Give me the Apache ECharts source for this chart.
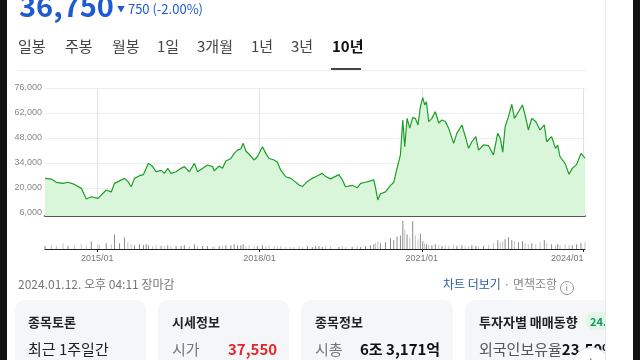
<!DOCTYPE html>
<html><head><meta charset="utf-8">
<script src="https://cdn.jsdelivr.net/npm/echarts@6/dist/echarts.min.js"></script>
<style>
body{margin:0;width:640px;height:360px;overflow:hidden;background:#fff;font-family:"Noto Sans CJK KR","Noto Sans",sans-serif;position:relative}
.a{position:absolute;white-space:nowrap}
.tab{position:absolute;top:36px;font-size:15px;line-height:20px;color:#444}
.card{position:absolute;top:300px;height:80px;border-radius:10px;background:#f5f6f8}
.ct{position:absolute;top:313px;font-size:13px;line-height:18px;font-weight:700;color:#222}
.r2{position:absolute;top:339px;font-size:15px;line-height:20px;color:#222}
</style></head><body>
<div id="chart" class="a" style="left:0;top:70px;width:640px;height:200px"></div>
<div class="a" style="left:0;top:0;width:7px;height:360px;background:#111"></div>
<div class="a" style="left:633px;top:0;width:7px;height:360px;background:#111"></div>
<div class="a" style="left:605px;top:0;width:1px;height:360px;background:#e8e8e8"></div>
<div class="a" style="left:7px;top:0;width:598px;height:360px;overflow:hidden;pointer-events:none">
  <div class="a" style="left:12px;top:-16px;font-size:29px;line-height:40px;font-weight:700;color:#1f5bd0">36,750</div>
  <div class="a" style="left:110px;top:0px;font-size:13px;line-height:18px;color:#1f5bd0"><span style="font-size:8px;position:relative;top:-2px">▼</span> 750 (-2.00%)</div>
  <div class="tab" style="left:11px">일봉</div>
  <div class="tab" style="left:58px">주봉</div>
  <div class="tab" style="left:105px">월봉</div>
  <div class="tab" style="left:150px">1일</div>
  <div class="tab" style="left:190px">3개월</div>
  <div class="tab" style="left:244px">1년</div>
  <div class="tab" style="left:284px">3년</div>
  <div class="tab" style="left:325px;font-weight:700;color:#111">10년</div>
  <div class="a" style="left:11px;top:70px;width:569px;height:1px;background:#eee"></div>
  <div class="a" style="left:324px;top:68px;width:30px;height:2px;background:#444"></div>

  <div class="a" style="left:11px;top:276px;font-size:12px;line-height:16px;color:#777">2024.01.12. 오후 04:11 장마감</div>
  <div class="a" style="left:436px;top:276px;font-size:12px;line-height:16px;color:#888"><span style="color:#2a5ea8">차트 더보기</span> · 면책조항 <span style="display:inline-block;width:12px;height:12px;border:1px solid #999;border-radius:50%;font-size:9px;line-height:12px;text-align:center;vertical-align:-2px">i</span></div>

  <div class="card" style="left:8px;width:131px"></div>
  <div class="card" style="left:151px;width:131px"></div>
  <div class="card" style="left:294px;width:152px"></div>
  <div class="card" style="left:458px;width:160px"></div>
  <div class="ct" style="left:21px">종목토론</div>
  <div class="ct" style="left:165px">시세정보</div>
  <div class="ct" style="left:308px">종목정보</div>
  <div class="ct" style="left:472px">투자자별 매매동향</div>
  <div class="a" style="left:579px;top:312px;font-size:11px;line-height:16px;padding:1px 4px;border-radius:8px;background:#e1f5e9;color:#0a9a5a;font-weight:700">24.01.12</div>
  <div class="r2" style="left:21px">최근 1주일간</div>
  <div class="r2" style="left:165px;color:#777">시가</div>
  <div class="r2" style="left:221px;color:#e3262c;font-weight:700">37,550</div>
  <div class="r2" style="left:308px;color:#777">시총</div>
  <div class="r2" style="left:353px;font-weight:700;color:#111">6조 3,171억</div>
  <div class="r2" style="left:472px;color:#555">외국인보유율<b style="color:#111">23.50%</b></div>
  <div class="a" style="left:565px;top:347px;width:36px;height:36px;border:1px solid #ddd;border-radius:50%;background:#fff;text-align:center;font-size:14px;line-height:22px;color:#555">›</div>
</div>
<script>
const dates = ['2014-01-13','2014-02-25','2014-03-31','2014-05-15','2014-06-17','2014-08-01','2014-09-16','2014-10-19','2014-11-22','2015-01-06','2015-01-17','2015-03-03','2015-04-06','2015-04-28','2015-06-01','2015-07-05','2015-07-27','2015-08-19','2015-09-10','2015-10-14','2015-11-10','2015-11-28','2015-12-13','2016-01-11','2016-02-03','2016-03-08','2016-03-30','2016-04-22','2016-05-14','2016-06-17','2016-07-21','2016-08-12','2016-09-15','2016-10-19','2016-11-10','2016-12-14','2017-01-16','2017-02-19','2017-03-02','2017-04-05','2017-04-27','2017-05-20','2017-06-23','2017-07-15','2017-08-07','2017-08-29','2017-09-14','2017-10-02','2017-10-24','2017-11-27','2017-12-19','2018-01-22','2018-02-14','2018-03-08','2018-04-11','2018-05-03','2018-05-26','2018-06-29','2018-08-02','2018-08-24','2018-09-27','2018-10-19','2018-11-22','2018-12-25','2019-01-17','2019-02-08','2019-03-03','2019-03-26','2019-04-28','2019-06-23','2019-07-16','2019-08-07','2019-09-21','2019-10-25','2019-11-17','2019-12-20','2020-01-23','2020-02-14','2020-02-26','2020-03-12','2020-03-30','2020-05-03','2020-06-06','2020-06-28','2020-07-20','2020-08-12','2020-08-28','2020-09-10','2020-09-26','2020-10-14','2020-11-03','2020-11-21','2020-12-09','2020-12-25','2021-01-10','2021-01-23','2021-02-04','2021-02-19','2021-03-13','2021-04-05','2021-04-28','2021-05-20','2021-06-12','2021-07-04','2021-08-07','2021-08-29','2021-10-02','2021-10-25','2021-11-16','2021-12-08','2022-01-04','2022-01-22','2022-02-25','2022-03-31','2022-05-03','2022-06-01','2022-06-18','2022-07-05','2022-07-21','2022-08-13','2022-09-04','2022-09-22','2022-10-19','2022-11-15','2022-12-03','2022-12-25','2023-01-17','2023-02-13','2023-03-14','2023-04-12','2023-04-28','2023-05-31','2023-06-27','2023-07-11','2023-07-27','2023-08-30','2023-09-26','2023-10-18','2023-11-16','2023-12-16','2024-01-12'];
const prices = [25400,25000,23200,22600,23200,22000,19800,13800,15100,14200,13300,18900,17800,22600,24000,25400,23700,20700,25400,26900,27500,31000,33800,32000,29100,29900,28200,31000,28200,29100,31000,32000,29100,33800,29100,31000,32900,32000,29600,32300,31000,35100,36500,39400,41200,42000,45000,40700,38900,35700,37500,43100,39400,36500,35700,34400,30000,26300,25400,24000,21700,20800,23700,25400,26300,27300,28200,26400,25100,27500,24600,20700,21500,20100,22600,23200,24000,24600,20000,13300,16800,17800,21500,23200,31000,38500,58100,43100,59000,53500,59400,59000,55300,65500,70600,66500,68300,57200,59000,62700,56400,58100,57200,53500,45000,50700,55300,48800,42200,45900,48800,41200,44100,43700,38500,50700,47900,40100,54300,60100,66900,59000,62700,66500,61000,52500,59000,57200,52500,55300,45900,48800,42200,44100,37500,33800,27700,31000,33100,39400,36750];
const volumes = [3,4,3,6,3,4,5,4,8,5,4,6,5,15,6,12,7,5,4,5,4,5,4,3,4,3,3,4,3,3,3,4,3,5,3,3,3,2,3,3,3,4,4,5,4,4,5,3,4,3,3,4,3,4,3,3,3,2,2,2,3,2,3,2,3,3,2,3,3,2,3,2,2,3,2,3,4,5,6,8,6,7,11,9,13,14,29,20,15,12,29,14,10,16,8,6,5,4,4,5,4,3,4,3,4,3,4,3,3,4,3,3,3,4,6,9,7,8,10,12,9,8,7,8,6,5,6,5,7,9,6,5,4,5,4,5,4,4,5,6,7];
const tickDates = ['2015-01-02','2018-01-02','2021-01-04','2024-01-02'];
const tickLabels = ['2015/01','2018/01','2021/01','2024/01'];
const yTicks = [6000,20000,34000,48000,62000,76000];

const toTs = d => +new Date(d + 'T00:00:00');
const n = Math.min(dates.length, prices.length);
const ts = dates.slice(0, n).map(toTs);
const tickTs = tickDates.map(toTs);
const chart = echarts.init(document.getElementById('chart'), null, {renderer:'canvas'});
const axisFont = '"Liberation Sans", Arial, sans-serif';
chart.setOption({
  animation:false,
  grid:[
    {left:45, width:540, top:18, height:128},
    {left:45, width:540, top:150, height:29}
  ],
  xAxis:[
    {type:'value', gridIndex:0, min:ts[0], max:ts[n-1], scale:true,
     axisLine:{show:true, onZero:false, lineStyle:{color:'#555', width:2}},
     axisTick:{show:false, customValues:tickTs}, axisLabel:{show:false, customValues:tickTs},
     splitLine:{show:true, lineStyle:{color:'#e2e2e2', width:1}}},
    {type:'value', gridIndex:1, min:ts[0], max:ts[n-1], scale:true,
     axisLine:{show:true, onZero:false, lineStyle:{color:'#222', width:1}},
     axisTick:{show:true, customValues:tickTs, length:3, lineStyle:{color:'#222'}},
     axisLabel:{customValues:tickTs, fontSize:9, color:'#777', margin:5, fontFamily:axisFont, alignMaxLabel:'right',
       formatter:v => { const i = tickTs.indexOf(v); return i >= 0 ? tickLabels[i] : ''; }},
     splitLine:{show:false}}
  ],
  yAxis:[
    {type:'value', gridIndex:0, min:4320, max:76000,
     axisLine:{show:false}, axisTick:{show:false, customValues:yTicks},
     axisLabel:{customValues:yTicks, fontSize:9, color:'#888', margin:3, fontFamily:axisFont,
       formatter:v => v.toLocaleString('en-US')},
     splitLine:{show:true, lineStyle:{color:'#eeeeee'}}},
    {type:'value', gridIndex:1, min:0, max:30, show:false, splitLine:{show:false}}
  ],
  series:[
    {type:'line', xAxisIndex:0, yAxisIndex:0, symbol:'none', silent:true,
     data: ts.map((t,i)=>[t, prices[i]]),
     lineStyle:{color:'#1c9e27', width:1.2},
     areaStyle:{color:'#d9f5da', origin:'start', opacity:1}},
    {type:'bar', xAxisIndex:1, yAxisIndex:1, silent:true, barWidth:1,
     data: ts.map((t,i)=>({value:[t, volumes[i]], itemStyle:{color: (i>0 && prices[i] < prices[i-1]) ? '#c4c4c4' : '#8a8a8a'}}))}
  ]
});
</script>
</body></html>
